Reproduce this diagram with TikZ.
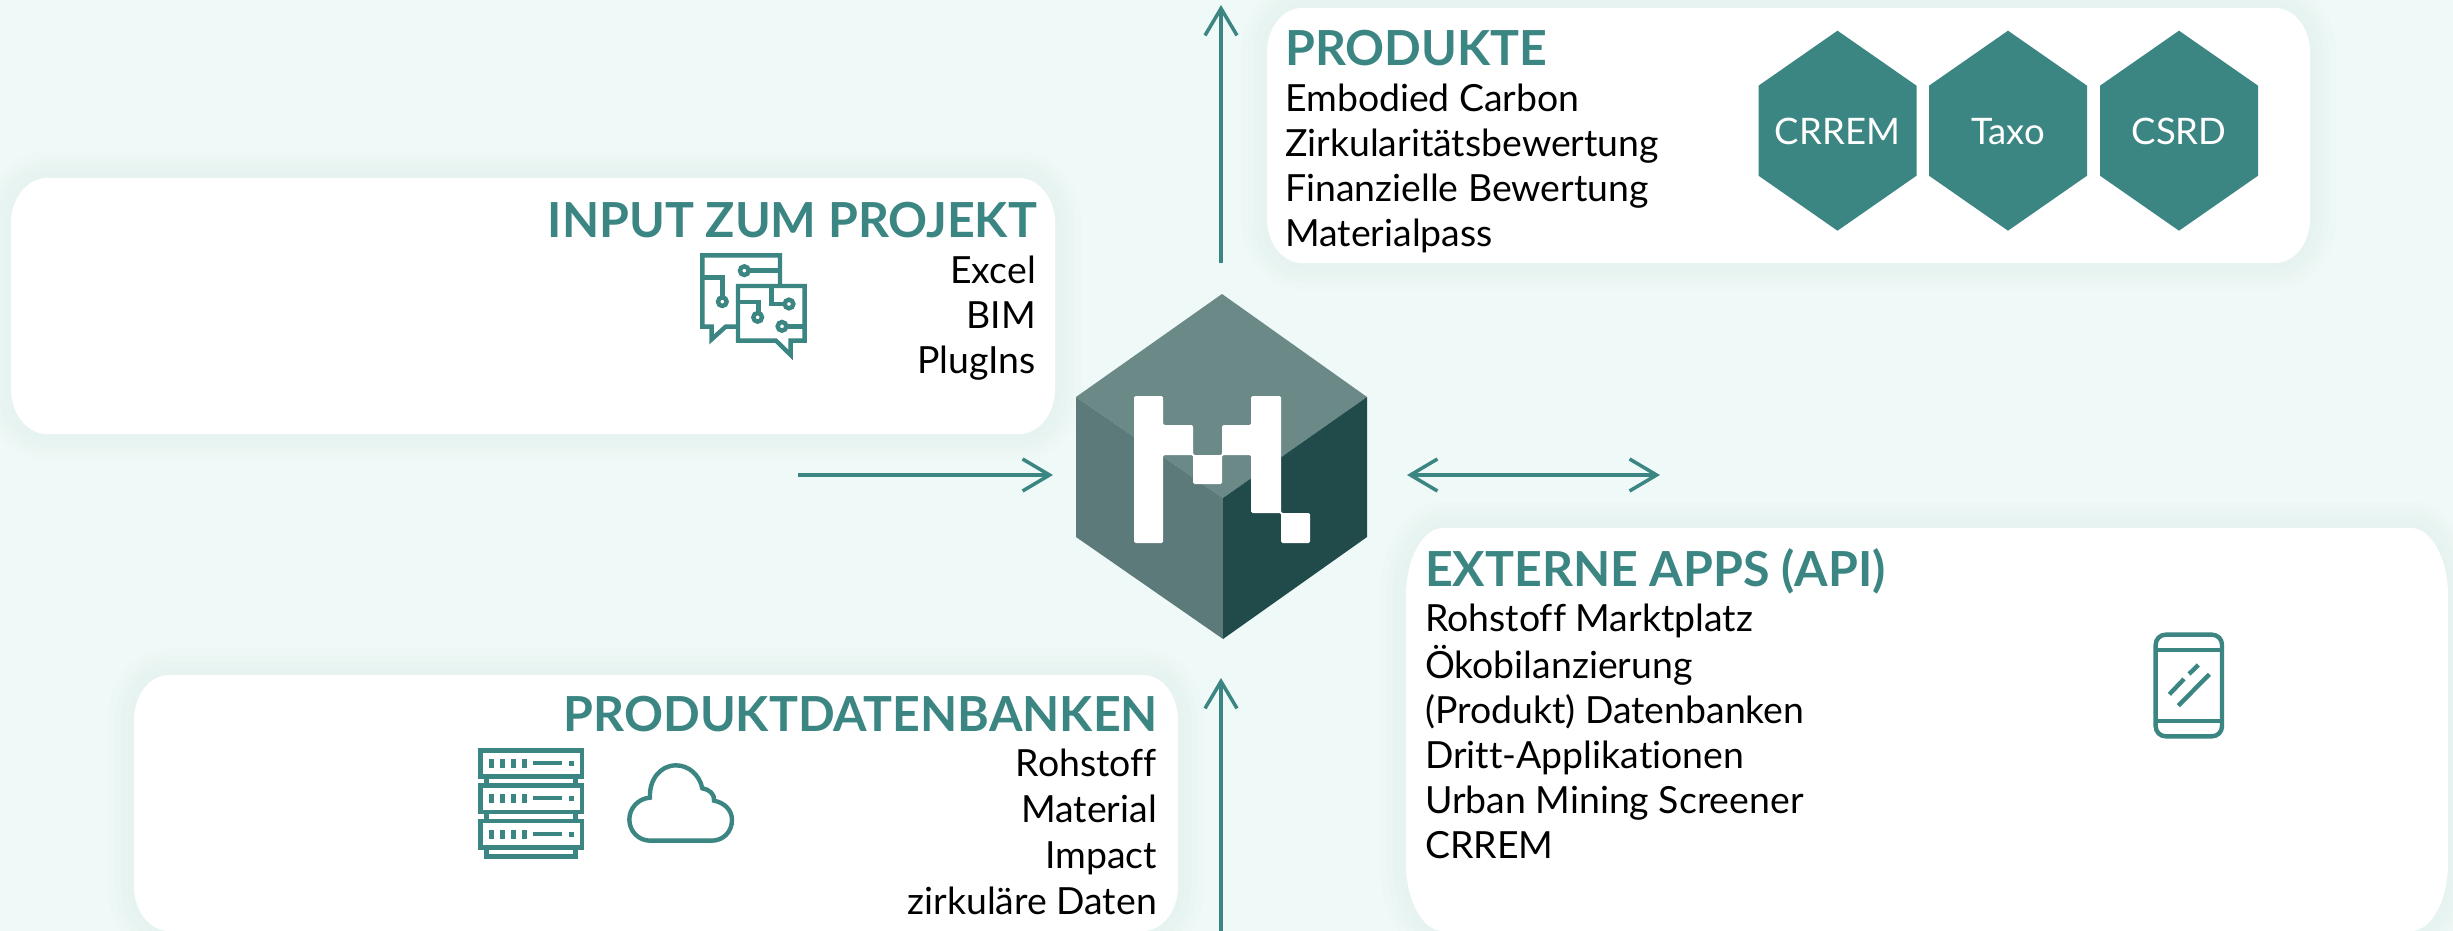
\documentclass[tikz,border=0pt]{standalone}
\usepackage{fontspec}
\setmainfont{Lato}[Ligatures=NoCommon]
\usetikzlibrary{arrows.meta}
\definecolor{bgc}{HTML}{EFF9F7}
\definecolor{teal}{HTML}{3B8582}
\definecolor{logotop}{HTML}{6B8A87}
\definecolor{logoleft}{HTML}{5C7A79}
\definecolor{logoright}{HTML}{214B4A}
\tikzset{
  card/.style={fill=white,
    preaction={draw={rgb,255:red,237;green,247;blue,245},line width=52pt},
    preaction={draw={rgb,255:red,235;green,246;blue,243},line width=38pt},
    preaction={draw={rgb,255:red,232;green,244;blue,242},line width=26pt},
    preaction={draw={rgb,255:red,230;green,243;blue,240},line width=12pt}},
  head/.style={text=teal,inner sep=0pt,font=\fontsize{48.3}{56}\selectfont\bfseries},
  body/.style={text=black,inner sep=0pt,font=\fontsize{37.4}{45}\selectfont},
  bodywide/.style={text=black,inner sep=0pt,font=\fontsize{37.4}{46}\selectfont},
  hexlabel/.style={text=white,inner sep=0pt,anchor=base,font=\fontsize{36.5}{45}\selectfont},
  flow/.style={draw=teal,line width=3.5pt},
  tipe/.style={-{Straight Barb[length=27pt,width=32pt,line width=3.5pt]}},
  tipb/.style={{Straight Barb[length=27pt,width=32pt,line width=3.5pt]}-{Straight Barb[length=27pt,width=32pt,line width=3.5pt]}},
  icon/.style={draw=teal,line width=4.4pt,line cap=butt,line join=miter,fill=none},
  icondot/.style={fill=teal,draw=none},
  hexa/.style={fill=teal,draw=none}
}
% x1 y1 x2 y2 rx ry
\newcommand{\cardshape}[6]{%
  \path[card] ({#1+#5},#2) -- ({#3-#5},#2)
    arc[start angle=-90,end angle=0,x radius=#5,y radius=#6] -- (#3,{#4-#6})
    arc[start angle=0,end angle=90,x radius=#5,y radius=#6] -- ({#1+#5},#4)
    arc[start angle=90,end angle=180,x radius=#5,y radius=#6] -- (#1,{#2+#6})
    arc[start angle=180,end angle=270,x radius=#5,y radius=#6] -- cycle;}
% cx: centre x, half-width 79
\newcommand{\hexshape}[1]{%
  \fill[hexa] (#1,30.7) -- ({#1+79},85.7) -- ({#1+79},175.7) -- (#1,230.7) -- ({#1-79},175.7) -- ({#1-79},85.7) -- cycle;}
\begin{document}
\begin{tikzpicture}[x=1pt,y=-1pt]
\useasboundingbox (0,0) rectangle (2453,931);
\fill[bgc] (0,0) rectangle (2453,931);
\begin{scope}
\clip (0,0) rectangle (2453,931);
% cards
\cardshape{11}{178}{1055}{434}{36}{45}
\cardshape{1267}{8}{2310}{263}{35}{44}
\cardshape{1406}{528}{2448}{931}{37}{68}
\cardshape{134}{675}{1178}{931}{35}{45}
\end{scope}
% texts
\node[head,anchor=base east] (hinput) at (1037,237) {INPUT ZUM PROJEKT};
\node[body,anchor=north east,align=right] (tinput) at (1036,251.5) {\strut Excel\\BIM\\PlugIns};
\node[head,anchor=base west] (hprod) at (1285,65.5) {PRODUKTE};
\node[body,anchor=north west,align=left] (tprod) at (1285,80) {\strut Embodied Carbon\\Zirkularitätsbewertung\\Finanzielle Bewertung\\Materialpass};
\node[head,anchor=base west] (hext) at (1425,586) {EXTERNE APPS (API)};
\node[body,anchor=north west,align=left] (text) at (1425,599.5) {\strut Rohstoff Marktplatz\\Ökobilanzierung\\(Produkt) Datenbanken\\Dritt-Applikationen\\Urban Mining Screener\\CRREM};
\node[head,anchor=base east] (hdb) at (1158,731) {PRODUKTDATENBANKEN};
\node[bodywide,anchor=north east,align=right] (tdb) at (1157,744.5) {\strut Rohstoff\\Material\\Impact\\zirkuläre Daten};
% hexagons
\hexshape{1837.5}
\hexshape{2008}
\hexshape{2179}
\node[hexlabel] (hcrrem) at (1837.5,145) {CRREM};
\node[hexlabel] (htaxo) at (2008,145) {Taxo};
\node[hexlabel] (hcsrd) at (2179,145) {CSRD};
% logo
\fill[logotop] (1222,294) -- (1367,397) -- (1223,498) -- (1076,397) -- cycle;
\fill[logoleft] (1076,397) -- (1223,498) -- (1223,639) -- (1076,537) -- cycle;
\fill[logoright] (1367,397) -- (1223,498) -- (1223,639) -- (1367,537) -- cycle;
\fill[white,rounded corners=1.5pt] (1134,396) -- (1163,396) -- (1163,425) -- (1193,425) -- (1193,455) -- (1222,455) -- (1222,425) -- (1251,425) -- (1251,396) -- (1281,396) -- (1281,513) -- (1310,513) -- (1310,543) -- (1281,543) -- (1281,513) -- (1251,513) -- (1251,455) -- (1222,455) -- (1222,484) -- (1193,484) -- (1193,455) -- (1163,455) -- (1163,543) -- (1134,543) -- cycle;
% connectors
\coordinate (logoW) at (1053,475);
\coordinate (logoE) at (1407,475);
\coordinate (logoN) at (1221,263);
\coordinate (logoS) at (1221,678);
\coordinate (inW) at (798,475);
\coordinate (extE) at (1660,475);
\coordinate (prodN) at (1221,5);
\coordinate (dbS) at (1221,931);
\draw[flow,tipe] (inW) -- (logoW);
\draw[flow,tipb] (logoE) -- (extE);
\draw[flow,tipe] (logoN) -- (prodN);
\draw[flow,tipe] (dbS) -- (logoS);
% chat icon
\begin{scope}[shift={(660,230)},x=0.33333pt,y=-0.33333pt]
\draw[icon] (360,165) -- (360,76) -- (127,76) -- (127,290) -- (155,290) -- (155,328) -- (197,290) -- (230,290);
\draw[icon] (127,142) -- (187,142) -- (187,200);
\draw[icon] (187,215) circle (13);
\draw[icon] (253,122) circle (13);
\draw[icon] (270,122) -- (360,122);
\draw[icon] (234,168) -- (434,168) -- (434,332) -- (392,332) -- (392,375) -- (348,332) -- (234,332) -- cycle;
\draw[icon] (334,168) -- (334,222) -- (370,222);
\draw[icon] (387,222) circle (13);
\draw[icon] (234,216) -- (295,216) -- (295,245);
\draw[icon] (293,262) circle (13);
\draw[icon] (366,289) circle (13);
\draw[icon] (385,289) -- (434,289);
\end{scope}
% server icon
\begin{scope}[shift={(450,730)},x=0.33333pt,y=-0.33333pt]
\foreach \ya/\yb/\dy in {61/139/0,166/246/105,273/352/213}{
  \draw[icon] (91,\ya) rectangle (396,\yb);
  \foreach \xx in {117,150,183,216}{
    \fill[icondot] (\xx,87+\dy) rectangle (\xx+15,113+\dy);
  }
  \fill[icondot] (249,93+\dy) rectangle (336,106+\dy);
  \fill[icondot] (357,93+\dy) rectangle (372,107+\dy);
}
\draw[icon] (110,145) -- (110,160) (376,145) -- (376,160);
\draw[icon] (110,252) -- (110,267) (376,252) -- (376,267);
\draw[icon] (110,358) -- (110,380) -- (376,380) -- (376,358);
% cloud
\draw[icon] (600,332) .. controls (565,332) and (538,303) .. (538,268) .. controls (538,235) and (565,205) .. (600,203) .. controls (597,150) and (630,106) .. (678,106) .. controls (715,106) and (748,133) .. (757,175) .. controls (777,178) and (795,192) .. (792,212) .. controls (823,218) and (846,240) .. (846,270) .. controls (846,305) and (820,332) .. (785,332) -- cycle;
\end{scope}
% phone icon
\begin{scope}[shift={(2120,610)},x=0.33333pt,y=-0.33333pt]
\draw[icon,rounded corners=10pt] (107,74) rectangle (306,379);
\draw[icon] (107,120) -- (306,120);
\draw[icon] (107,333) -- (306,333);
\draw[icon] (148,253) -- (192,207);
\draw[icon] (175,287) -- (268,193);
\draw[icon] (207,192) -- (235,165);
\end{scope}
\end{tikzpicture}
\end{document}
